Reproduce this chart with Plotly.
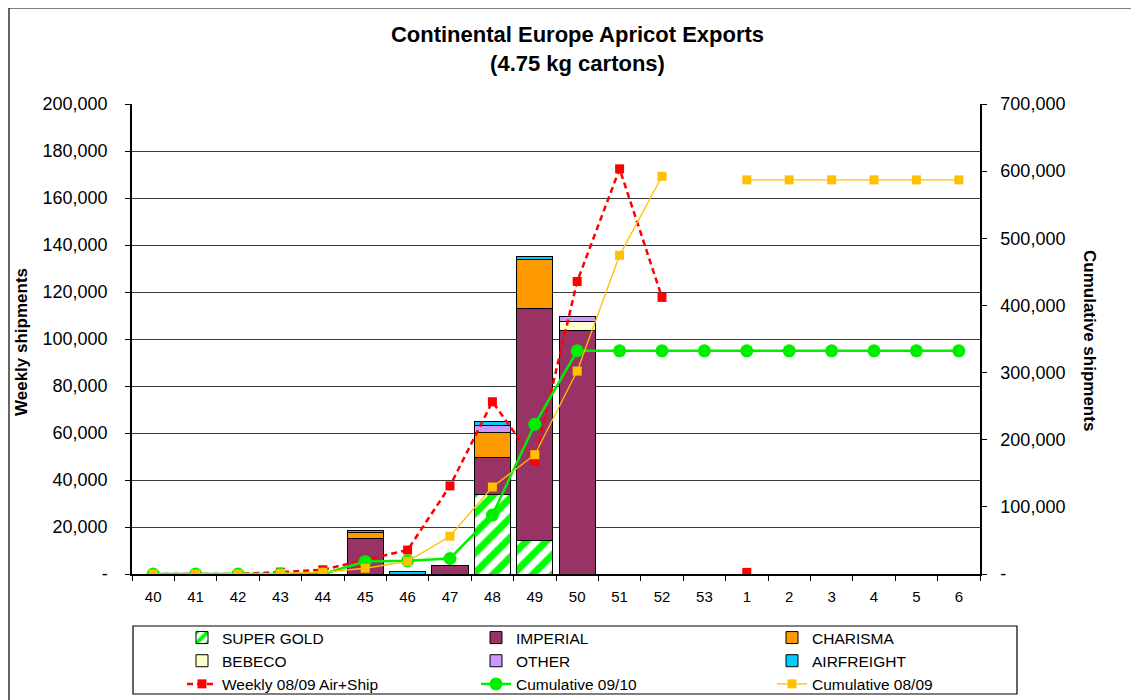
import plotly.graph_objects as go

weeks = ["40", "41", "42", "43", "44", "45", "46", "47", "48", "49", "50",
         "51", "52", "53", "1", "2", "3", "4", "5", "6"]

super_gold = [None, None, None, None, None, None, None, None, 34000, 14400, None,
              None, None, None, None, None, None, None, None, None]
imperial = [None, None, None, None, None, 14900, None, 3500, 15500, 98500, 103700,
            None, None, None, None, None, None, None, None, None]
charisma = [None, None, None, None, None, 2700, None, None, 10600, 20800, None,
            None, None, None, None, None, None, None, None, None]
bebeco = [None, None, None, None, None, None, None, None, None, None, 3600,
          None, None, None, None, None, None, None, None, None]
other = [None, None, None, None, None, None, None, None, 3300, None, 2100,
         None, None, None, None, None, None, None, None, None]
airfreight = [None, None, None, None, None, 1100, 900, None, 1300, 1400, None,
              None, None, None, None, None, None, None, None, None]

weekly_0809 = [0, 0, 0, 800, 1800, 6000, 10200, 37500, 73300, 48100, 124500,
               172400, 117700, None, 700, None, None, None, None, None]
cum_0910 = [0, 0, 0, 0, 0, 18700, 19600, 23100, 87800, 223000, 332400,
            332400, 332400, 332400, 332400, 332400, 332400, 332400, 332400, 332400]
cum_0809 = [0, 0, 0, 800, 2600, 8600, 18800, 56300, 129600, 177700, 302200,
            474600, 592300, None, 587000, 587000, 587000, 587000, 587000, 587000]

left_ticks = [0, 20000, 40000, 60000, 80000, 100000, 120000, 140000, 160000, 180000, 200000]
left_labels = ["-", "20,000", "40,000", "60,000", "80,000", "100,000", "120,000",
               "140,000", "160,000", "180,000", "200,000"]
right_ticks = [0, 100000, 200000, 300000, 400000, 500000, 600000, 700000]
right_labels = ["-", "100,000", "200,000", "300,000", "400,000", "500,000",
                "600,000", "700,000"]

FONT = "Liberation Sans, Arial, sans-serif"
edge = dict(color="black", width=1)

# target geometry in screenshot pixels; page body adds an 8px offset
OFF = 8
L, R, T, B = 132 - OFF, 980 - OFF, 104 - OFF, 574 - OFF
W, H = R - L, B - T


def px(x):
    return (x - OFF - L) / W


def py(y):
    return (B - (y - OFF)) / H


fig = go.Figure()
fig.add_trace(go.Bar(name="SUPER GOLD", x=weeks, y=super_gold, legend="legend",
                     marker=dict(color="white", line=edge,
                                 pattern=dict(shape="/", fgcolor="#00FF00", bgcolor="white",
                                              fgopacity=1, size=14, solidity=0.5))))
fig.add_trace(go.Bar(name="IMPERIAL", x=weeks, y=imperial, legend="legend2",
                     marker=dict(color="#993366", line=edge)))
fig.add_trace(go.Bar(name="CHARISMA", x=weeks, y=charisma, legend="legend3",
                     marker=dict(color="#FF9900", line=edge)))
fig.add_trace(go.Bar(name="BEBECO", x=weeks, y=bebeco, legend="legend",
                     marker=dict(color="#FFFFCC", line=edge)))
fig.add_trace(go.Bar(name="OTHER", x=weeks, y=other, legend="legend2",
                     marker=dict(color="#CC99FF", line=edge)))
fig.add_trace(go.Bar(name="AIRFREIGHT", x=weeks, y=airfreight, legend="legend3",
                     marker=dict(color="#00CCFF", line=edge)))

fig.add_trace(go.Scatter(name="Weekly 08/09 Air+Ship", x=weeks, y=weekly_0809,
                         legend="legend", mode="lines+markers",
                         line=dict(color="#FF0000", width=2.5, dash="6px,4px"),
                         marker=dict(symbol="square", size=9, color="#FF0000")))
fig.add_trace(go.Scatter(name="Cumulative 09/10", x=weeks, y=cum_0910, yaxis="y2",
                         legend="legend2", mode="lines+markers",
                         line=dict(color="#00EE00", width=2.5),
                         marker=dict(symbol="circle", size=13, color="#00EE00")))
fig.add_trace(go.Scatter(name="Cumulative 08/09", x=weeks, y=cum_0809, yaxis="y2",
                         legend="legend3", mode="lines+markers",
                         line=dict(color="#FFC000", width=1.3),
                         marker=dict(symbol="square", size=9, color="#FFC000")))


def leg(xpix):
    return dict(orientation="v", x=px(xpix), xanchor="left", y=py(621), yanchor="top",
                traceorder="normal", font=dict(family=FONT, size=15.5, color="black"),
                borderwidth=0, bgcolor="rgba(0,0,0,0)", tracegroupgap=0)


fig.update_layout(
    width=1139, height=700,
    margin=dict(l=L, r=1139 - R, t=T, b=700 - B, autoexpand=False),
    paper_bgcolor="white", plot_bgcolor="white",
    font=dict(family=FONT, color="black"),
    barmode="stack", bargap=0.15,
    showlegend=True,
    title=dict(text="<b>Continental Europe Apricot Exports<br>(4.75 kg cartons)</b>",
               x=0.5, xanchor="center", yref="container", y=1 - 34 / 700, yanchor="top",
               font=dict(family=FONT, size=22, color="black")),
    xaxis=dict(type="category", categoryorder="array", categoryarray=weeks,
               range=[-0.5, len(weeks) - 0.5], autorange=False,
               showgrid=False, showline=True, linecolor="black", linewidth=1.5,
               ticks="outside", tickson="boundaries", ticklen=5, tickcolor="black",
               ticklabelstandoff=8, tickfont=dict(size=15), zeroline=False),
    yaxis=dict(range=[0, 200000], tickvals=left_ticks, ticktext=left_labels,
               showgrid=True, gridcolor="#3a3a3a", gridwidth=1,
               showline=True, linecolor="black", linewidth=1.5,
               ticks="outside", ticklen=5, tickcolor="black",
               ticklabelstandoff=14, tickfont=dict(size=18), zeroline=False),
    yaxis2=dict(range=[0, 700000], tickvals=right_ticks, ticktext=right_labels,
                overlaying="y", side="right", showgrid=False,
                showline=True, linecolor="black", linewidth=1.5,
                ticks="outside", ticklen=5, tickcolor="black",
                ticklabelstandoff=10, tickfont=dict(size=18), zeroline=False),
    legend=leg(182),
    legend2=leg(476),
    legend3=leg(772),
    annotations=[
        dict(text="<b>Weekly shipments</b>", xref="paper", yref="paper",
             x=px(21), y=py(342), xanchor="center", yanchor="middle", textangle=-90,
             showarrow=False, font=dict(family=FONT, size=17)),
        dict(text="<b>Cumulative shipments</b>", xref="paper", yref="paper",
             x=px(1090), y=py(340), xanchor="center", yanchor="middle", textangle=90,
             showarrow=False, font=dict(family=FONT, size=17)),
    ],
    shapes=[
        dict(type="rect", xref="paper", yref="paper",
             x0=px(133), x1=px(1017), y0=py(694), y1=py(626),
             line=dict(color="black", width=1.2), fillcolor="rgba(0,0,0,0)"),
        dict(type="rect", xref="paper", yref="paper",
             x0=px(9), x1=px(1160), y0=py(720), y1=py(8),
             line=dict(color="black", width=1.2), fillcolor="rgba(0,0,0,0)"),
    ],
)

fig.write_html("out.html")
